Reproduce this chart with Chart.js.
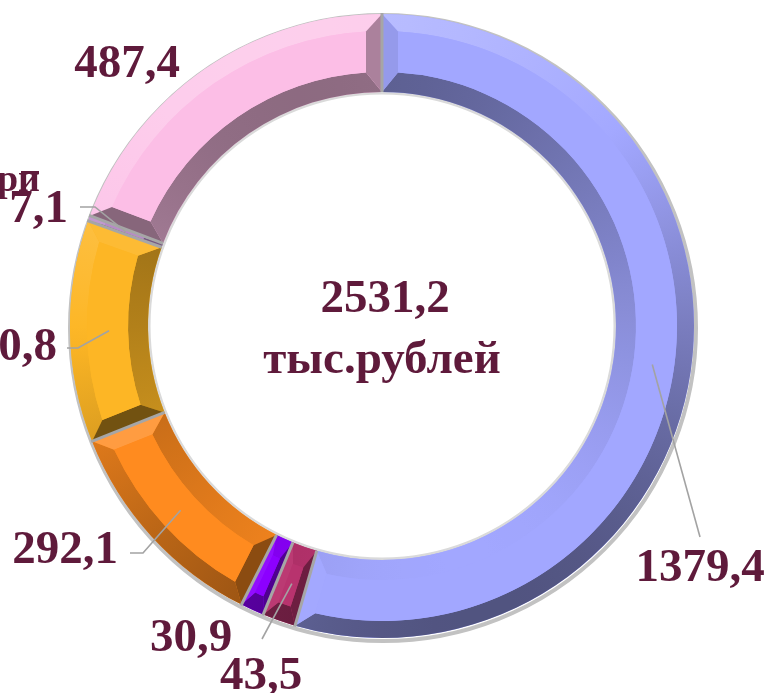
<!DOCTYPE html>
<html>
<head>
<meta charset="utf-8">
<script src="https://cdn.jsdelivr.net/npm/chart.js@4.4.1/dist/chart.umd.min.js"></script>
<style>
  html, body { margin: 0; padding: 0; background: #fff; }
  #wrap { width: 769px; height: 693px; position: relative; overflow: hidden; }
</style>
</head>
<body>
<div id="wrap"><canvas id="ringChart" width="769" height="693"></canvas></div>
<script>
// values clockwise from 12 o'clock
const values = [1379.4, 43.5, 30.9, 292.1, 290.8, 7.1, 487.4];
const valueLabels = ['1379,4', '43,5', '30,9', '292,1', '290,8', '7,1', '487,4'];
const sliceColors = ['#A2A7FF', '#B8336E', '#8C00FF', '#FF8B1F', '#FDB625', '#B88AC8', '#FCBEE6'];
const centerLines = ['2531,2', 'тыс.рублей'];

// where each value label sits, and the bend points of its leader line
const labelLayout = [
    { x: 700, y: 569, align: 'center', path: [[700, 537]] },
    { x: 261, y: 677, align: 'center', path: [[262, 639]] },
    { x: 191, y: 639, align: 'center', path: null },
    { x: 65,  y: 551, align: 'center', path: [[130, 553], [143, 553]] },
    { x: 57,  y: 348, align: 'right',  path: [[67, 348], [78, 348]] },
    { x: 68,  y: 210, align: 'right',  path: [[80, 207], [95, 207]] },
    { x: 127, y: 65,  align: 'center', path: null }
];

const LABEL_COLOR = '#5F1A3B';
const LABEL_FONT = 'bold 47px "Liberation Serif", "Times New Roman", serif';
const LIGHT = -110 * Math.PI / 180;

// ==========================================
// HELPERS
// ==========================================

function shade(hex, amt) {
    const n = parseInt(hex.slice(1), 16);
    const ch = [(n >> 16) & 255, (n >> 8) & 255, n & 255].map(c => {
        const v = amt >= 0 ? c + (255 - c) * amt : c * (1 + amt);
        return Math.round(Math.max(0, Math.min(255, v)));
    });
    return `rgb(${ch[0]},${ch[1]},${ch[2]})`;
}

function pt(cx, cy, r, a) {
    return [cx + r * Math.cos(a), cy + r * Math.sin(a)];
}

function conic(ctx, cx, cy, color, fn) {
    const g = ctx.createConicGradient(0, cx, cy);
    const steps = 72;
    for (let i = 0; i <= steps; i++) {
        const t = i / steps * Math.PI * 2;
        g.addColorStop(i / steps, shade(color, fn(t)));
    }
    return g;
}

const outerAmt = t => 0.38 * Math.cos(t - LIGHT) - 0.12;
const innerAmt = t => -0.22 * Math.cos(t - LIGHT) - 0.22;
const endAmt = t => 0.35 * Math.cos(t - LIGHT) - 0.2;

// ==========================================
// BEVEL PLUGIN
// ==========================================

const bevelPlugin = {
    id: 'bevel',
    beforeDatasetsDraw(chart) {
        const ctx = chart.ctx;
        const arc = chart.getDatasetMeta(0).data[0];
        if (!arc) return;
        const { x, y, outerRadius, innerRadius } = arc.getProps(['x', 'y', 'outerRadius', 'innerRadius'], true);
        ctx.save();
        ctx.strokeStyle = '#C2C2C2';
        ctx.lineWidth = 4;
        ctx.beginPath();
        ctx.arc(x + 1, y + 2, outerRadius + 1, 0, Math.PI * 2);
        ctx.stroke();
        ctx.strokeStyle = '#DADADA';
        ctx.lineWidth = 3;
        ctx.beginPath();
        ctx.arc(x, y, innerRadius - 1, 0, Math.PI * 2);
        ctx.stroke();
        ctx.restore();
    },
    afterDatasetsDraw(chart) {
        const ctx = chart.ctx;
        const arcs = chart.getDatasetMeta(0).data;
        ctx.save();
        arcs.forEach((arc, i) => {
            const { x, y, startAngle: a0, endAngle: a1, outerRadius: r1, innerRadius: r0 } =
                arc.getProps(['x', 'y', 'startAngle', 'endAngle', 'outerRadius', 'innerRadius'], true);
            const color = sliceColors[i];
            const span = a1 - a0;
            const bo = 17, bi = 20, be = 16;
            const ins = r => Math.min(be / r, span * 0.3);
            const ro = r1 - bo, ri = r0 + bi;

            // outer band
            ctx.beginPath();
            ctx.arc(x, y, r1, a0, a1);
            ctx.lineTo(...pt(x, y, ro, a1 - ins(ro)));
            ctx.arc(x, y, ro, a1 - ins(ro), a0 + ins(ro), true);
            ctx.closePath();
            ctx.fillStyle = conic(ctx, x, y, color, outerAmt);
            ctx.fill();

            // inner band
            ctx.beginPath();
            ctx.arc(x, y, r0, a0, a1);
            ctx.lineTo(...pt(x, y, ri, a1 - ins(ri)));
            ctx.arc(x, y, ri, a1 - ins(ri), a0 + ins(ri), true);
            ctx.closePath();
            ctx.fillStyle = conic(ctx, x, y, color, innerAmt);
            ctx.fill();

            // start and end bands
            [[a0, 1, a0 - Math.PI / 2], [a1, -1, a1 + Math.PI / 2]].forEach(([a, dir, normal]) => {
                ctx.beginPath();
                ctx.moveTo(...pt(x, y, r0, a));
                ctx.lineTo(...pt(x, y, r1, a));
                ctx.lineTo(...pt(x, y, ro, a + dir * ins(ro)));
                ctx.lineTo(...pt(x, y, ri, a + dir * ins(ri)));
                ctx.closePath();
                ctx.fillStyle = shade(color, endAmt(normal));
                ctx.fill();
            });

            // face
            ctx.beginPath();
            ctx.arc(x, y, ro, a0 + ins(ro), a1 - ins(ro));
            ctx.lineTo(...pt(x, y, ri, a1 - ins(ri)));
            ctx.arc(x, y, ri, a1 - ins(ri), a0 + ins(ri), true);
            ctx.closePath();
            ctx.fillStyle = color;
            ctx.fill();
        });

        // separators between slices
        ctx.strokeStyle = '#A6A6A6';
        ctx.lineWidth = 3;
        arcs.forEach(arc => {
            const { x, y, startAngle, outerRadius, innerRadius } =
                arc.getProps(['x', 'y', 'startAngle', 'outerRadius', 'innerRadius'], true);
            ctx.beginPath();
            ctx.moveTo(...pt(x, y, innerRadius, startAngle));
            ctx.lineTo(...pt(x, y, outerRadius + 1, startAngle));
            ctx.stroke();
        });
        ctx.restore();
    }
};

// ==========================================
// LABEL PLUGIN
// ==========================================

const labelPlugin = {
    id: 'valueLabels',
    afterDraw(chart) {
        const ctx = chart.ctx;
        const arcs = chart.getDatasetMeta(0).data;
        ctx.save();
        // leader lines
        ctx.strokeStyle = '#A3A3A3';
        ctx.lineWidth = 1.6;
        arcs.forEach((arc, i) => {
            const lay = labelLayout[i];
            if (!lay.path) return;
            const { x, y, startAngle, endAngle, outerRadius, innerRadius } =
                arc.getProps(['x', 'y', 'startAngle', 'endAngle', 'outerRadius', 'innerRadius'], true);
            const mid = (startAngle + endAngle) / 2;
            const anchor = pt(x, y, (outerRadius + innerRadius) / 2, mid);
            ctx.beginPath();
            ctx.moveTo(...lay.path[0]);
            lay.path.slice(1).forEach(p => ctx.lineTo(...p));
            ctx.lineTo(...anchor);
            ctx.stroke();
        });

        // value labels
        ctx.fillStyle = LABEL_COLOR;
        ctx.font = LABEL_FONT;
        ctx.textBaseline = 'middle';
        valueLabels.forEach((txt, i) => {
            const lay = labelLayout[i];
            ctx.textAlign = lay.align;
            ctx.fillText(txt, lay.x, lay.y);
        });

        // clipped category text at left edge
        ctx.font = 'bold 38px "Liberation Serif", serif';
        ctx.textAlign = 'right';
        ctx.textBaseline = 'alphabetic';
        ctx.fillText('ри', 40, 191);
        ctx.fillRect(21, 171, 18, 3);

        // total in the middle
        const c = arcs[0].getProps(['x', 'y'], true);
        ctx.font = LABEL_FONT;
        ctx.textBaseline = 'middle';
        ctx.textAlign = 'center';
        ctx.fillText(centerLines[0], c.x + 3, c.y - 26);
        ctx.fillText(centerLines[1], c.x, c.y + 35);
        ctx.restore();
    }
};

new Chart(document.getElementById('ringChart'), {
    type: 'doughnut',
    data: {
        labels: valueLabels,
        datasets: [{
            data: values,
            backgroundColor: sliceColors,
            borderWidth: 0
        }]
    },
    options: {
        responsive: false,
        animation: false,
        cutout: '75%',
        layout: { padding: { left: 70, right: 75, top: 14, bottom: 55 } },
        plugins: {
            legend: { display: false },
            tooltip: { enabled: false }
        }
    },
    plugins: [bevelPlugin, labelPlugin]
});
</script>
</body>
</html>
